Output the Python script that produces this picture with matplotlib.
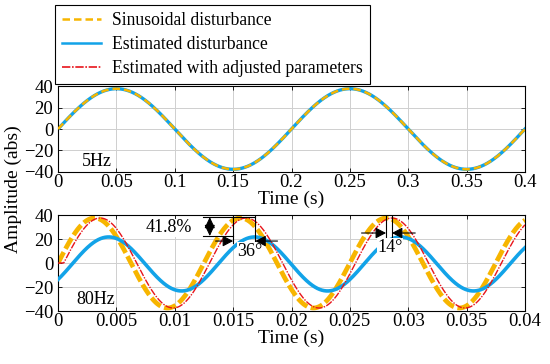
import numpy as np
import matplotlib
matplotlib.use("Agg")
import matplotlib.pyplot as plt
from matplotlib.lines import Line2D

plt.rcParams['font.family'] = ['Liberation Serif', 'DejaVu Serif']
plt.rcParams['mathtext.fontset'] = 'stix'

# signal parameters
freq_top = 5.0          # Hz
freq_bot = 80.0         # Hz
amp_ref = 37.5          # sinusoidal disturbance amplitude
amp_est_top = 37.5      # estimate at 5 Hz (tracks the reference)
amp_est_bot = 22.5      # estimate at 80 Hz
offset_est_bot = -0.8
lag_est_bot = 35.0      # deg
amp_adj = 37.5          # estimate with adjusted parameters
lag_adj = 14.0          # deg

xticks_top = [0, 0.05, 0.1, 0.15, 0.2, 0.25, 0.3, 0.35, 0.4]
xticks_bot = [0, 0.005, 0.01, 0.015, 0.02, 0.025, 0.03, 0.035, 0.04]
xtick_labels_top = ['0', '0.05', '0.1', '0.15', '0.2', '0.25', '0.3', '0.35', '0.4']
xtick_labels_bot = ['0', '0.005', '0.01', '0.015', '0.02', '0.025', '0.03', '0.035', '0.04']
yticks = [-40, -20, 0, 20, 40]

legend_labels = ['Sinusoidal disturbance', 'Estimated disturbance',
                 'Estimated with adjusted parameters']

c_yel = '#F7B500'
c_blu = '#12A3E8'
c_red = '#E8141B'

t_top = np.linspace(0, 0.4, 2001)
t_bot = np.linspace(0, 0.04, 4001)

ref_top = amp_ref * np.sin(2 * np.pi * freq_top * t_top)
est_top = amp_est_top * np.sin(2 * np.pi * freq_top * t_top)

ref_bot = amp_ref * np.sin(2 * np.pi * freq_bot * t_bot)
est_bot = offset_est_bot + amp_est_bot * np.sin(2 * np.pi * freq_bot * t_bot - np.radians(lag_est_bot))
delay = np.radians(lag_adj) / (2 * np.pi * freq_bot)
adj_bot = np.where(t_bot < delay, 0.0,
                   amp_adj * np.sin(2 * np.pi * freq_bot * (t_bot - delay)))

fig = plt.figure(figsize=(5.5, 3.64), dpi=100)
ax1 = fig.add_axes([0.1055, 0.5275, 0.849, 0.2362])
ax2 = fig.add_axes([0.1055, 0.1456, 0.849, 0.2637])

TICK = 13.5
LAB = 14


def style(ax, xt, xl, xmax):
    ax.set_xlim(0, xmax)
    ax.set_ylim(-40, 40)
    ax.set_xticks(xt, labels=xl)
    ax.set_yticks(yticks)
    ax.grid(True, color='#cfcfcf', lw=0.7)
    ax.set_axisbelow(True)
    ax.tick_params(direction='in', length=3, width=0.6, top=True, right=True,
                   labelsize=TICK)
    ax.tick_params(axis='x', pad=1.5)
    ax.tick_params(axis='y', pad=3.5)
    for s in ax.spines.values():
        s.set_linewidth(0.8)
        s.set_color('black')
    ax.set_xlabel('Time (s)', fontsize=LAB, labelpad=0)


# top panel
ax1.plot(t_top, est_top, color=c_blu, lw=2.4, zorder=2)
ax1.plot(t_top, ref_top, color=c_yel, lw=1.8, ls=(0, (3, 1.6)), zorder=3)
style(ax1, xticks_top, xtick_labels_top, 0.4)
ax1.text(0.033, -30.5, '5Hz', fontsize=13, ha='center', va='center')

# bottom panel
ax2.plot(t_bot, ref_bot, color=c_yel, lw=3.4, ls=(0, (2.6, 0.8)), zorder=2)
ax2.plot(t_bot, est_bot, color=c_blu, lw=2.6, zorder=3)
ax2.plot(t_bot, adj_bot, color=c_red, lw=1.0, ls=(0, (5, 1, 1, 1)), zorder=4)
style(ax2, xticks_bot, xtick_labels_bot, 0.04)
ax2.text(0.0032, -30, '80Hz', fontsize=13, ha='center', va='center')

# 41.8% amplitude annotation
k = dict(color='black', lw=0.8, zorder=6)
ax2.plot([0.0124, 0.0169], [38.3, 38.3], **k)
ax2.plot([0.0124, 0.0150], [22.5, 22.5], **k)
ax2.annotate('', xy=(0.0130, 22.5), xytext=(0.0130, 38.3),
             arrowprops=dict(arrowstyle='<|-|>,head_length=0.42,head_width=0.2',
                             color='black', lw=0.8,
                             mutation_scale=16, shrinkA=0, shrinkB=0), zorder=7)
ax2.text(0.0095, 29.2, '41.8%', fontsize=13, ha='center', va='center',
         bbox=dict(facecolor='white', edgecolor='none', pad=0.5), zorder=6)

# 36 deg phase annotation
ax2.plot([0.0150, 0.0150], [40, 17], **k)
ax2.plot([0.0169, 0.0169], [40, 17], **k)
arw = dict(arrowstyle='-|>,head_length=0.42,head_width=0.22', color='black',
           lw=0.8, mutation_scale=15, shrinkA=0, shrinkB=0)
ax2.annotate('', xy=(0.0150, 18.3), xytext=(0.0135, 18.3), arrowprops=arw, zorder=7)
ax2.annotate('', xy=(0.0169, 18.3), xytext=(0.0188, 18.3), arrowprops=arw, zorder=7)
ax2.text(0.01645, 10, '36°', fontsize=13, ha='center', va='center',
         bbox=dict(facecolor='white', edgecolor='none', pad=0.3), zorder=6)

# 14 deg phase annotation
ax2.plot([0.0281, 0.0281], [40, 21], **k)
ax2.plot([0.0286, 0.0286], [40, 21], **k)
ax2.annotate('', xy=(0.0281, 25), xytext=(0.0260, 25), arrowprops=arw, zorder=7)
ax2.annotate('', xy=(0.0286, 25), xytext=(0.0306, 25), arrowprops=arw, zorder=7)
ax2.text(0.02844, 13.3, '14°', fontsize=13, ha='center', va='center',
         bbox=dict(facecolor='white', edgecolor='none', pad=0.3), zorder=6)

fig.text(0.024, 0.481, 'Amplitude (abs)', rotation=90, fontsize=LAB,
         ha='center', va='center')

handles = [
    Line2D([], [], color=c_yel, lw=1.8, ls=(0, (3, 1.6))),
    Line2D([], [], color=c_blu, lw=1.8),
    Line2D([], [], color=c_red, lw=1.2, ls=(0, (5, 1, 1, 1))),
]
leg = fig.legend(handles, legend_labels, loc='upper left',
                 bbox_to_anchor=(55 / 550, 1 - 5 / 364), fontsize=12.7,
                 frameon=True, fancybox=False, edgecolor='black',
                 framealpha=1, borderpad=0.42, labelspacing=0.38,
                 handlelength=2.2, handletextpad=0.6, borderaxespad=0)
leg.get_frame().set_linewidth(0.8)
leg.set_zorder(10)

fig.savefig('out.png', dpi=100)
